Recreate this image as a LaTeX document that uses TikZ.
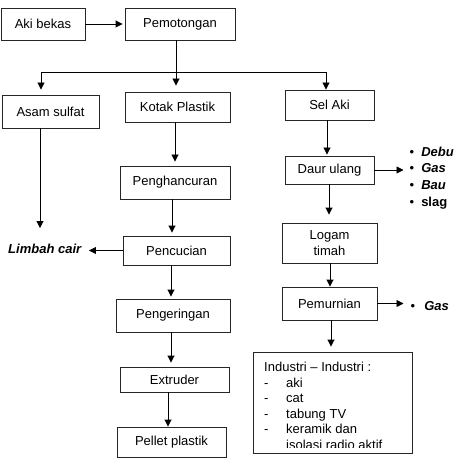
\documentclass[tikz,border=0pt]{standalone}
\usepackage{fontspec}
\setmainfont{Liberation Sans}
\usetikzlibrary{arrows.meta}
\begin{document}
\begin{tikzpicture}[x=1pt,y=-1pt,
  box/.style={draw=black!85,line width=0.9pt,inner sep=0pt,align=center,font=\fontsize{13}{15.5}\selectfont},
  lbl/.style={inner sep=0pt,align=left,font=\fontsize{13}{16.7}\selectfont},
  arr/.style={line width=0.9pt,-{Triangle[length=7pt,width=7pt]}},
  ln/.style={line width=0.9pt}]
\useasboundingbox (0,0) rectangle (457,465);
% boxes
\node[box,minimum width=84pt,minimum height=32pt] (aki) at (43,24) {Aki bekas};
\node[box,minimum width=110pt,minimum height=32pt] (pem) at (180,24) {Pemotongan};
\node[box,minimum width=97pt,minimum height=33pt] (asam) at (50.5,111.5) {Asam sulfat};
\node[box,minimum width=105pt,minimum height=30pt] (kotak) at (177.5,107) {Kotak Plastik};
\node[box,minimum width=89pt,minimum height=30pt] (sel) at (329.5,105) {Sel Aki};
\node[box,minimum width=110pt,minimum height=33pt] (peng) at (175,182.5) {Penghancuran};
\node[box,minimum width=107pt,minimum height=29pt] (pencuc) at (176.5,250.5) {Pencucian};
\node[box,minimum width=114pt,minimum height=33pt] (penger) at (173,315.5) {Pengeringan};
\node[box,minimum width=109pt,minimum height=25pt] (extr) at (174.5,379.5) {Extruder};
\node[box,minimum width=109pt,minimum height=30pt] (pellet) at (171.5,442) {Pellet plastik};
\node[box,minimum width=89pt,minimum height=28pt] (daur) at (329.5,170) {Daur ulang};
\node[box,minimum width=95pt,minimum height=40pt] (logam) at (329.5,243) {Logam\\timah};
\node[box,minimum width=95pt,minimum height=33pt] (pemur) at (329.5,303.5) {Pemurnian};
\node[box,minimum width=159pt,minimum height=101pt] (ind) at (332.5,402.5) {};
\begin{scope}
\clip (254,353) rectangle (411,447.5);
\node[inner sep=0pt,anchor=base west,font=\fontsize{13}{15.5}\selectfont] (indtxt) at (264,371.5)
 {\begin{tabular}[t]{@{}p{22pt}@{}l@{}}
  \multicolumn{2}{@{}l@{}}{Industri – Industri :}\\
  - & aki\\
  - & cat\\
  - & tabung TV\\
  - & keramik dan\\
    & isolasi radio aktif
 \end{tabular}};
\end{scope}
% labels
\node[lbl] (limbah) at (45,249) {\textbf{\textit{Limbah cair}}};
\node[lbl,anchor=west] (dampak) at (409.5,178) {•\hspace{7pt}\textbf{\textit{Debu}}\\•\hspace{7pt}\textbf{\textit{Gas}}\\•\hspace{7pt}\textbf{\textit{Bau}}\\•\hspace{7pt}\textbf{slag}};
\node[lbl,anchor=west] (gas) at (410.5,306) {•\hspace{9pt}\textbf{\textit{Gas}}};
% x positions
\coordinate (split) at (176,72);
\coordinate (sl) at (41,72);
\coordinate (sr) at (326,72);
\coordinate (k1) at (175,0);
\coordinate (k2) at (172,0);
\coordinate (k3) at (171,0);
\coordinate (k4) at (168,0);
\coordinate (a1) at (40,0);
\coordinate (s1) at (327,0);
\coordinate (s2) at (329,0);
\coordinate (s3) at (330,0);
\coordinate (s4) at (331,0);
% connectors
\draw[arr,shorten >=2pt] (aki) -- (pem);
\draw[ln] (sl) -- (sr);
\draw[arr,shorten >=6pt] (pem.south -| split) -- (kotak.north -| split);
\draw[arr,shorten >=5pt] (sl) -- (asam.north -| sl);
\draw[arr] (sr) -- (sel.north -| sr);
\draw[arr,shorten >=4pt] (kotak.south -| k1) -- (peng.north -| k1);
\draw[arr,shorten >=3pt] (peng.south -| k2) -- (pencuc.north -| k2);
\draw[arr,shorten >=2pt] (pencuc.south -| k3) -- (penger.north -| k3);
\draw[arr,shorten >=4pt] (penger.south -| k3) -- (extr.north -| k3);
\draw[arr] (extr.south -| k4) -- (pellet.north -| k4);
\draw[arr,shorten >=16pt] (asam.south -| a1) -- (limbah.north -| a1);
\draw[arr,shorten >=7pt] (pencuc.west) -- (pencuc.west -| limbah.east);
\draw[arr,shorten >=1pt] (sel.south -| s1) -- (daur.north -| s1);
\draw[arr,shorten >=6pt] (daur.east) -- (daur.east -| dampak.west);
\draw[arr,shorten >=8pt] (daur.south -| s2) -- (logam.north -| s2);
\draw[arr] (logam.south -| s3) -- (pemur.north -| s3);
\draw[arr,shorten >=7pt] (pemur.east) -- (pemur.east -| gas.west);
\draw[arr,shorten >=5pt] (pemur.south -| s4) -- (ind.north -| s4);
\end{tikzpicture}
\end{document}
